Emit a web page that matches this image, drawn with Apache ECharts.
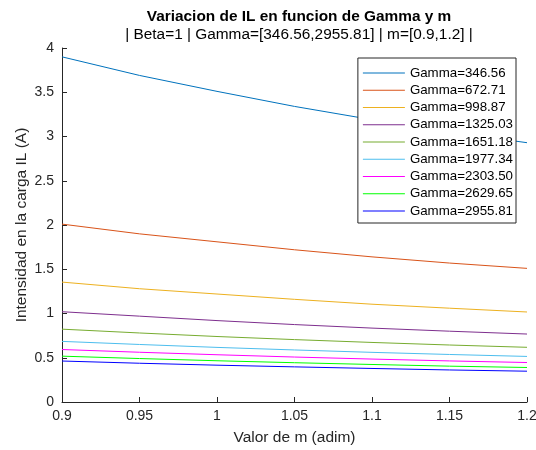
<!DOCTYPE html>
<html>
<head>
<meta charset="utf-8">
<script src="https://cdn.jsdelivr.net/npm/echarts@6/dist/echarts.min.js"></script>
<style>
  html, body { margin: 0; padding: 0; background: #fff; }
  #chart { width: 536px; height: 450px; }
</style>
</head>
<body>
<div id="chart"></div>
<script>
// Load ratio m sampled at the axis ticks
const mValues = [0.9, 0.95, 1.0, 1.05, 1.1, 1.15, 1.2];

// Gamma values, one curve each
const gammaNames = ['346.56', '672.71', '998.87', '1325.03', '1651.18', '1977.34', '2303.50', '2629.65', '2955.81'];

// Load current IL (A) for each Gamma at the m values above
const il_346 = [3.90, 3.69, 3.51, 3.34, 3.19, 3.05, 2.93];
const il_672 = [2.01, 1.90, 1.81, 1.72, 1.64, 1.57, 1.51];
const il_998 = [1.355, 1.28, 1.22, 1.16, 1.105, 1.06, 1.017];
const il_1325 = [1.02, 0.97, 0.92, 0.875, 0.835, 0.80, 0.768];
const il_1651 = [0.823, 0.78, 0.74, 0.705, 0.673, 0.644, 0.618];
const il_1977 = [0.685, 0.65, 0.617, 0.588, 0.561, 0.537, 0.515];
const il_2303 = [0.593, 0.562, 0.534, 0.508, 0.485, 0.464, 0.446];
const il_2629 = [0.518, 0.491, 0.466, 0.444, 0.424, 0.405, 0.390];
const il_2955 = [0.463, 0.438, 0.416, 0.397, 0.379, 0.362, 0.348];

const ilSeries = [il_346, il_672, il_998, il_1325, il_1651, il_1977, il_2303, il_2629, il_2955];

const lineColors = ['#0072BD', '#D95319', '#EDB120', '#7E2F8E', '#77AC30', '#4DBEEE', '#FF00FF', '#00FF00', '#0000FF'];

const axisColor = '#262626';
const fontFamily = 'Liberation Sans, Arial, sans-serif';

const chart = echarts.init(document.getElementById('chart'), null, { renderer: 'canvas' });

const series = ilSeries.map((vals, i) => ({
  name: 'Gamma=' + gammaNames[i],
  type: 'line',
  data: mValues.map((m, j) => [m, vals[j]]),
  symbol: 'none',
  smooth: false,
  lineStyle: { color: lineColors[i], width: 1 },
  itemStyle: { color: lineColors[i] },
  emphasis: { disabled: true },
  animation: false
}));

const tickFmt = v => String(parseFloat(v.toFixed(2)));

chart.setOption({
  animation: false,
  backgroundColor: '#fff',
  textStyle: { fontFamily: fontFamily },
  title: [
    {
      text: 'Variacion de IL en funcion de Gamma y m',
      left: 294, top: 4, textAlign: 'center',
      textStyle: { fontSize: 15.4, fontWeight: 'bold', color: '#000', fontFamily: fontFamily }
    },
    {
      text: '| Beta=1 | Gamma=[346.56,2955.81] | m=[0.9,1.2] |',
      left: 294, top: 22, textAlign: 'center',
      textStyle: { fontSize: 15.4, fontWeight: 'normal', color: '#000', fontFamily: fontFamily }
    }
  ],
  grid: { left: 62, right: 9, top: 48, bottom: 48, containLabel: false, outerBoundsMode: 'none' },
  legend: {
    orient: 'vertical',
    right: 20, top: 58,
    backgroundColor: '#fff',
    borderColor: axisColor,
    borderWidth: 1,
    borderRadius: 0,
    padding: [7, 3, 4, 5],
    itemWidth: 42,
    itemHeight: 1,
    itemGap: 1.25,
    icon: 'rect',
    textStyle: { fontSize: 13.3, lineHeight: 16, color: '#000', fontFamily: fontFamily },
    data: series.map(s => s.name)
  },
  xAxis: {
    type: 'value',
    min: 0.9, max: 1.2, interval: 0.05,
    name: 'Valor de m (adim)',
    nameLocation: 'middle',
    nameGap: 28,
    nameMoveOverlap: false,
    nameTextStyle: { fontSize: 15.5, color: axisColor, fontFamily: fontFamily },
    axisLine: { show: true, lineStyle: { color: axisColor, width: 1 } },
    axisTick: { show: true, inside: true, length: 5, lineStyle: { color: axisColor } },
    axisLabel: { fontSize: 14, color: axisColor, margin: 7, fontFamily: fontFamily, formatter: tickFmt },
    splitLine: { show: false }
  },
  yAxis: {
    type: 'value',
    min: 0, max: 4, interval: 0.5,
    name: 'Intensidad en la carga IL (A)',
    nameLocation: 'middle',
    nameGap: 32,
    nameMoveOverlap: false,
    nameTextStyle: { fontSize: 15.5, color: axisColor, fontFamily: fontFamily },
    axisLine: { show: true, lineStyle: { color: axisColor, width: 1 } },
    axisTick: { show: true, inside: true, length: 5, lineStyle: { color: axisColor } },
    axisLabel: { fontSize: 14, color: axisColor, margin: 8, fontFamily: fontFamily, formatter: tickFmt },
    splitLine: { show: false }
  },
  series: series
});
</script>
</body>
</html>
